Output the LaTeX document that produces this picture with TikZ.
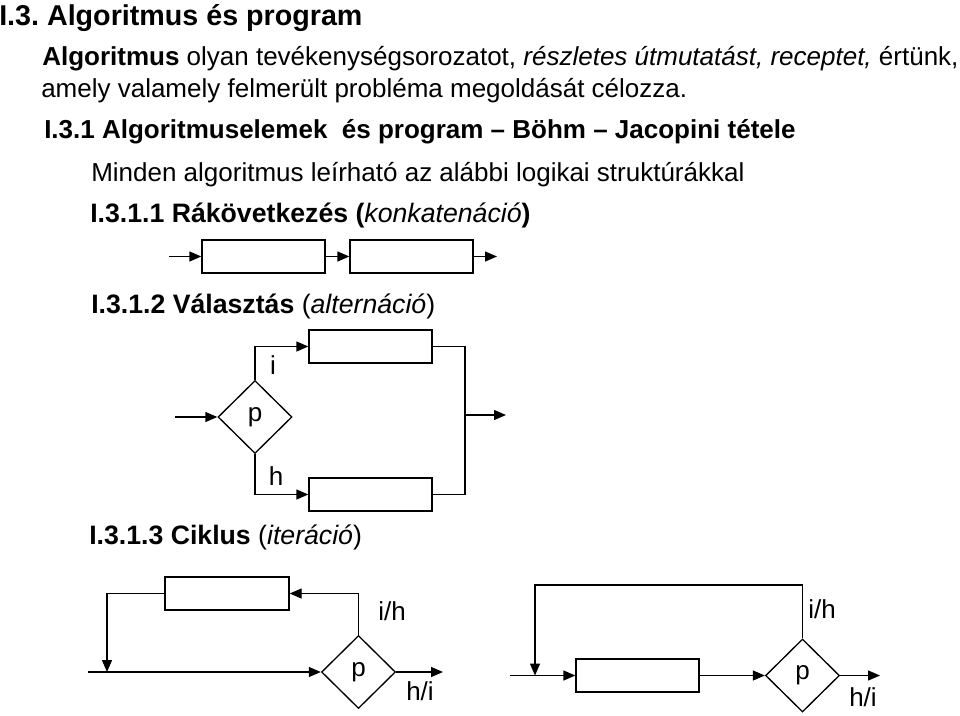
\documentclass[tikz,border=0pt]{standalone}
\usepackage{fontspec}
\setmainfont{Liberation Sans}
\usetikzlibrary{arrows.meta,positioning,shapes}
\newlength\pix\setlength\pix{0.75pt}
\frenchspacing

\begin{document}
\begin{tikzpicture}[x=0.75pt,y=-0.75pt,inner sep=0pt]
  \useasboundingbox (0,0) rectangle (960,715);
  \tikzstyle{t}=[anchor=base west,font=\fontsize{19.5pt}{23pt}\selectfont]
  \tikzstyle{hd}=[anchor=base west,font=\fontsize{20pt}{24pt}\selectfont\bfseries]
  \tikzstyle{lb}=[font=\fontsize{19.5pt}{23pt}\selectfont]
  \tikzstyle{b}=[rectangle,draw,line width=1pt,minimum width=123\pix,minimum height=33\pix]
  \tikzstyle{d}=[diamond,draw,line width=1pt,minimum width=74\pix,minimum height=73\pix,lb]
  \tikzstyle{e}=[-{Triangle[length=9pt,width=7.5pt]},draw=black,line width=1pt]
  % texts
  \node[anchor=base west,font=\fontsize{21.5pt}{26pt}\selectfont\bfseries](title)at(-1,25){I.3. Algoritmus és program};
  \node[t](l1)at(42,65){\textbf{Algoritmus} olyan tevékenységsorozatot, \textit{részletes útmutatást, receptet,} értünk,};
  \node[t](l2)at(41,97){amely valamely felmerült probléma megoldását célozza.};
  \node[anchor=base west,font=\fontsize{19.5pt}{23pt}\selectfont\bfseries](h1)at(44,138){I.3.1 Algoritmuselemek\ \ és program – Böhm – Jacopini tétele};
  \node[t](l3)at(91,181){Minden algoritmus leírható az alábbi logikai struktúrákkal};
  \node[hd](h11)at(90,222){I.3.1.1 Rákövetkezés (\textmd{\textit{konkatenáció}})};
  \node[hd](h12)at(91,313){I.3.1.2 Választás \textmd{(\textit{alternáció})}};
  \node[hd](h13)at(89,544){I.3.1.3 Ciklus \textmd{(\textit{iteráció})}};
  % sequence
  \coordinate(s0)at(169,256.5);
  \node[b](s1)at(263.5,256.5){};
  \node[b](s2)at(411.5,256.5){};
  \coordinate(s3)at(497,256.5);
  \foreach\o/\d in{s0/s1.west,s1.east/s2.west,s2.east/s3}{\draw[e](\o)--(\d);}
  % selection
  \coordinate(a0)at(175,417);
  \node[d](a1)at(255,417){p};
  \node[b](a2)at(370.5,346.5){};
  \node[b](a3)at(370.5,494.5){};
  \coordinate(a4)at(465,415);
  \coordinate(a5)at(506,415);
  \draw[e](a0)--(a1.west);
  \draw[e](a1.north)|-(a2.west);
  \draw[e](a1.south)|-(a3.west);
  \draw[line width=1pt](a2.east)-|(a4)|-(a3.east);
  \draw[e](a4)--(a5);
  \node[lb](ai)at(273,365){i};
  \node[lb](ah)at(276,476){h};
  % loop, test after
  \coordinate(c0)at(88,672);
  \node[b,minimum width=124\pix](c1)at(227,593.5){};
  \node[d](c2)at(358.5,672){p};
  \coordinate(c3)at(443,672);
  \coordinate(cj)at(107,672);
  \draw[e](c0)--(c2.west);
  \draw[e](c2.north)|-(c1.east);
  \draw[e](c1.west)-|(cj);
  \draw[e](c2.east)--(c3);
  \node[lb](cih)at(392,611){i/h};
  \node[lb](chi)at(420,691){h/i};
  % loop, body first
  \coordinate(w0)at(510,675.5);
  \node[b](w1)at(637.5,675.5){};
  \node[d](w2)at(802.5,675.5){p};
  \coordinate(w3)at(880,675.5);
  \coordinate(wj)at(535,675.5);
  \coordinate(wt)at(535,585);
  \foreach\o/\d in{w0/w1.west,w1.east/w2.west,w2.east/w3}{\draw[e](\o)--(\d);}
  \draw[e](w2.north)|-(wt)--(wj);
  \node[lb](wih)at(822,609){i/h};
  \node[lb](whi)at(863,697){h/i};
\end{tikzpicture}
\end{document}
